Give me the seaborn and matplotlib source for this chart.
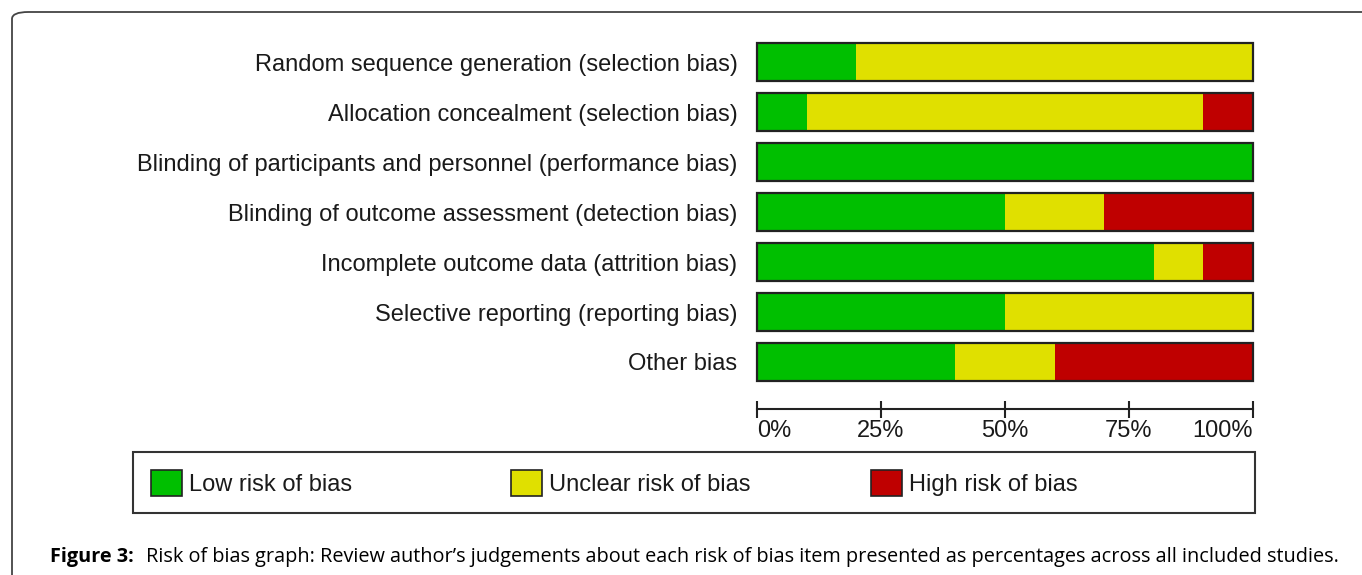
import pandas as pd
import seaborn as sns
import matplotlib.pyplot as plt
from matplotlib.patches import Rectangle, FancyBboxPatch, Patch

domains = [
    'Random sequence generation (selection bias)',
    'Allocation concealment (selection bias)',
    'Blinding of participants and personnel (performance bias)',
    'Blinding of outcome assessment (detection bias)',
    'Incomplete outcome data (attrition bias)',
    'Selective reporting (reporting bias)',
    'Other bias',
]
low = [20, 10, 100, 50, 80, 50, 40]
unclear = [80, 80, 0, 20, 10, 50, 20]
high = [0, 10, 0, 30, 10, 0, 40]
tick_vals = [0, 25, 50, 75, 100]
tick_labels = ['0%', '25%', '50%', '75%', '100%']
legend_labels = ['Low risk of bias', 'Unclear risk of bias', 'High risk of bias']

GREEN, YELLOW, RED = '#00bf00', '#e0e000', '#bf0000'
TXT = '#1a1a1a'
FONT = 'Liberation Sans'
FS = 17

df = pd.DataFrame({'domain': domains, 'low': low, 'unclear': unclear, 'high': high})
df['low_unclear'] = df['low'] + df['unclear']
df['total'] = df['low_unclear'] + df['high']

W, H = 1362, 575
sns.set_style('white')
plt.rcParams['font.family'] = [FONT, 'DejaVu Sans']
fig = plt.figure(figsize=(W / 100, H / 100), dpi=100)


def fx(x):
    return x / W


def fy(y):
    return 1 - y / H


ax = fig.add_axes([fx(757), fy(387), 496 / W, 350 / H])

# stacked bars: draw cumulative totals back to front
sns.barplot(data=df, y='domain', x='total', color=RED, width=0.76, orient='h',
            linewidth=0, saturation=1, ax=ax)
sns.barplot(data=df, y='domain', x='low_unclear', color=YELLOW, width=0.76, orient='h',
            linewidth=0, saturation=1, ax=ax)
sns.barplot(data=df, y='domain', x='low', color=GREEN, width=0.76, orient='h',
            linewidth=0, saturation=1, ax=ax)
# outline
sns.barplot(data=df, y='domain', x='total', color='#222222', fill=False, width=0.76,
            orient='h', linewidth=1.6, saturation=1, ax=ax)
for p in ax.patches:
    p.set_clip_on(False)

ax.set_xlim(0, 100)
ax.set_ylim(6.5, -0.5)
ax.set_xlabel('')
ax.set_ylabel('')
ax.set_xticks(tick_vals)
ax.set_xticklabels(tick_labels)
for s in ['top', 'right', 'left']:
    ax.spines[s].set_visible(False)
ax.spines['bottom'].set_position(('outward', 22 * 0.72))
ax.spines['bottom'].set_linewidth(1.5)
ax.spines['bottom'].set_color('#222222')
ax.tick_params(axis='x', bottom=True, direction='inout', length=17 * 0.72, width=1.5,
               color='#222222', pad=2, labelsize=FS, labelcolor=TXT)
ax.tick_params(axis='y', left=False, length=0, pad=14, labelsize=FS, labelcolor=TXT)
ax.set_facecolor('none')
xt = ax.xaxis.get_major_ticks()
xt[0].label1.set_horizontalalignment('left')
xt[-1].label1.set_horizontalalignment('right')

# legend box
fig.patches.append(Rectangle((fx(133), fy(513)), (1255 - 133) / W, 61 / H,
                             transform=fig.transFigure, fill=False,
                             edgecolor='#333333', linewidth=1.5))
for col, lab, x0 in zip([GREEN, YELLOW, RED], legend_labels, [151, 511, 871]):
    fig.legend(handles=[Patch(facecolor=col, edgecolor='#222222', linewidth=1.2)],
               labels=[lab], loc='center left', bbox_to_anchor=(fx(x0), fy(483)),
               frameon=False, fontsize=FS, borderpad=0, borderaxespad=0,
               handlelength=1.3, handleheight=1.35, handletextpad=0.3,
               labelcolor=TXT)

# outer frame (rounded top-left corner)
fig.patches.append(FancyBboxPatch((fx(12), fy(H + 40)), (W + 40) / W, (H + 40 - 12) / H,
                                  boxstyle='round,pad=0,rounding_size=0.012',
                                  transform=fig.transFigure, fill=False,
                                  edgecolor='#444444', linewidth=1.3))

# caption
cap_font = 'Open Sans'
cap_fs = 14.3
t1 = fig.text(fx(50), fy(557), 'Figure 3:', fontsize=cap_fs, fontweight='bold',
              family=cap_font, va='center', ha='left', color='black')
fig.canvas.draw()
bb = t1.get_window_extent()
fig.text(bb.x1 / W + fx(12), fy(557),
         'Risk of bias graph: Review author\u2019s judgements about each risk of bias item '
         'presented as percentages across all included studies.',
         fontsize=cap_fs, family=cap_font, va='center', ha='left', color='black')

fig.savefig('out.png', dpi=100)
